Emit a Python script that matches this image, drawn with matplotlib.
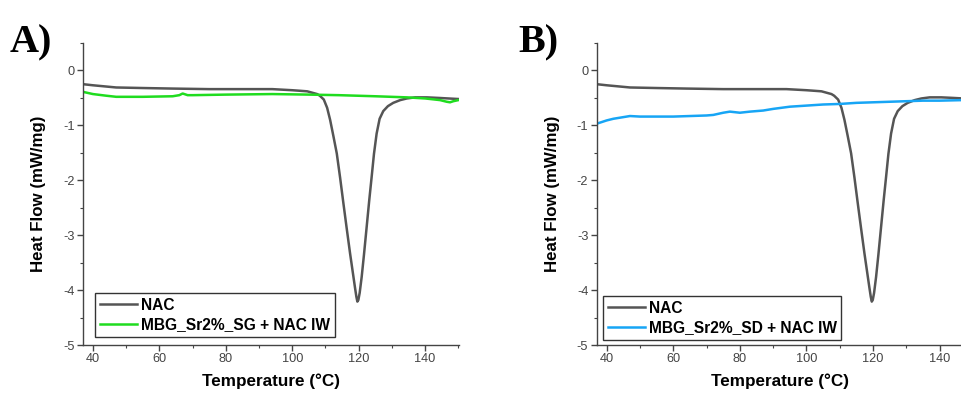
import matplotlib
matplotlib.use("Agg")
import matplotlib.pyplot as plt
from matplotlib.ticker import MultipleLocator

plt.rcParams['font.family'] = ['Liberation Sans', 'DejaVu Sans']

# NAC (same measurement in both panels)
nac_T = [37, 40, 47, 55, 64, 75, 85, 94, 100, 102.3, 104.5, 106.3, 107.5, 108.3, 109.5, 110.5,
         111.4, 112.4, 113.4, 114.4, 115.4, 116.4, 117.4, 118.4, 118.9, 119.3, 119.6, 119.9,
         120.3, 120.9, 121.6, 122.4, 123.2, 123.9, 124.6, 125.4, 126.3, 127.4, 128.8, 130.4,
         132.5, 134.5, 137, 140.5, 144, 147, 150]
nac_HF = [-0.25, -0.27, -0.31, -0.32, -0.33, -0.34, -0.34, -0.34, -0.36, -0.37, -0.38, -0.41,
          -0.43, -0.46, -0.53, -0.68, -0.90, -1.20, -1.51, -1.95, -2.42, -2.88, -3.33, -3.75,
          -3.96, -4.12, -4.21, -4.18, -4.05, -3.76, -3.35, -2.85, -2.35, -1.94, -1.52, -1.15,
          -0.88, -0.74, -0.65, -0.59, -0.54, -0.51, -0.49, -0.49, -0.50, -0.51, -0.52]

# MBG_Sr2%_SG + NAC IW
sg_T = [37, 40, 44, 47, 55, 64, 66, 67, 68.5, 70, 80, 94, 105, 114, 125, 134.5, 140, 144.5,
        146.5, 147.5, 148.5, 150]
sg_HF = [-0.39, -0.43, -0.46, -0.48, -0.48, -0.47, -0.45, -0.42, -0.45, -0.45, -0.44, -0.43,
         -0.44, -0.45, -0.47, -0.49, -0.51, -0.54, -0.57, -0.58, -0.56, -0.54]

# MBG_Sr2%_SD + NAC IW
sd_T = [37, 38.5, 40, 42, 45, 47, 50, 55, 60, 65, 70, 72, 75, 77, 80, 83, 87, 90, 95, 100,
        105, 110, 115, 120, 125, 130, 135, 140, 147]
sd_HF = [-0.97, -0.94, -0.91, -0.88, -0.85, -0.83, -0.84, -0.84, -0.84, -0.83, -0.82, -0.81,
         -0.77, -0.75, -0.77, -0.75, -0.73, -0.70, -0.66, -0.64, -0.62, -0.61, -0.59, -0.58,
         -0.57, -0.56, -0.55, -0.55, -0.54]

xticks = [40, 60, 80, 100, 120, 140]
yticks = [0, -1, -2, -3, -4, -5]

NAC_COLOR = '#555555'
SG_COLOR = '#1fdc1f'
SD_COLOR = '#17a5f5'

fig = plt.figure(figsize=(9.62, 3.94), dpi=100)
W, H = 962, 394

def make_ax(left_px, right_px, xmax, other_T, other_HF, other_color, other_label, leg_anchor):
    ax = fig.add_axes([left_px / W, 1 - 345 / H, (right_px - left_px) / W, (345 - 43) / H])
    ax.plot(nac_T, nac_HF, color=NAC_COLOR, lw=1.8, label='NAC')
    ax.plot(other_T, other_HF, color=other_color, lw=1.8, label=other_label)
    ax.set_xlim(37, xmax)
    ax.set_ylim(-5, 0.5)
    ax.set_xticks(xticks)
    ax.set_yticks(yticks)
    ax.set_yticklabels([str(v) for v in yticks])
    ax.xaxis.set_minor_locator(MultipleLocator(10))
    ax.yaxis.set_minor_locator(MultipleLocator(0.5))
    for s in ['top', 'right']:
        ax.spines[s].set_visible(False)
    for s in ['left', 'bottom']:
        ax.spines[s].set_color('#444444')
        ax.spines[s].set_linewidth(1.0)
    ax.tick_params(which='major', direction='out', length=4, width=1, color='#444444',
                   labelsize=9.2, labelcolor='#444444', pad=2)
    ax.tick_params(which='minor', direction='out', length=2.5, width=0.8, color='#444444')
    ax.set_xlabel('Temperature (°C)', fontsize=12.3, fontweight='bold', labelpad=6)
    ax.set_ylabel('Heat Flow (mW/mg)', fontsize=12.2, fontweight='bold', labelpad=12)
    leg = ax.legend(loc='lower left', bbox_to_anchor=leg_anchor, borderaxespad=0,
                    prop={'weight': 'bold', 'size': 11.2}, frameon=True, fancybox=False,
                    handlelength=2.4, handletextpad=0.25, borderpad=0.3, labelspacing=0.3)
    leg.get_frame().set_edgecolor('black')
    leg.get_frame().set_linewidth(1.0)
    return ax

make_ax(83, 459, 150.2, sg_T, sg_HF, SG_COLOR, 'MBG_Sr2%_SG + NAC IW', (0.032, 0.026))
make_ax(596.7, 963, 147, sd_T, sd_HF, SD_COLOR, 'MBG_Sr2%_SD + NAC IW', (0.017, 0.017))

fig.text(10 / W, 1 - 52 / H, 'A)', family=['Liberation Serif'], fontweight='bold', fontsize=29,
         ha='left', va='baseline')
fig.text(518 / W, 1 - 52 / H, 'B)', family=['Liberation Serif'], fontweight='bold', fontsize=29,
         ha='left', va='baseline')

fig.savefig('out.png', dpi=100)
